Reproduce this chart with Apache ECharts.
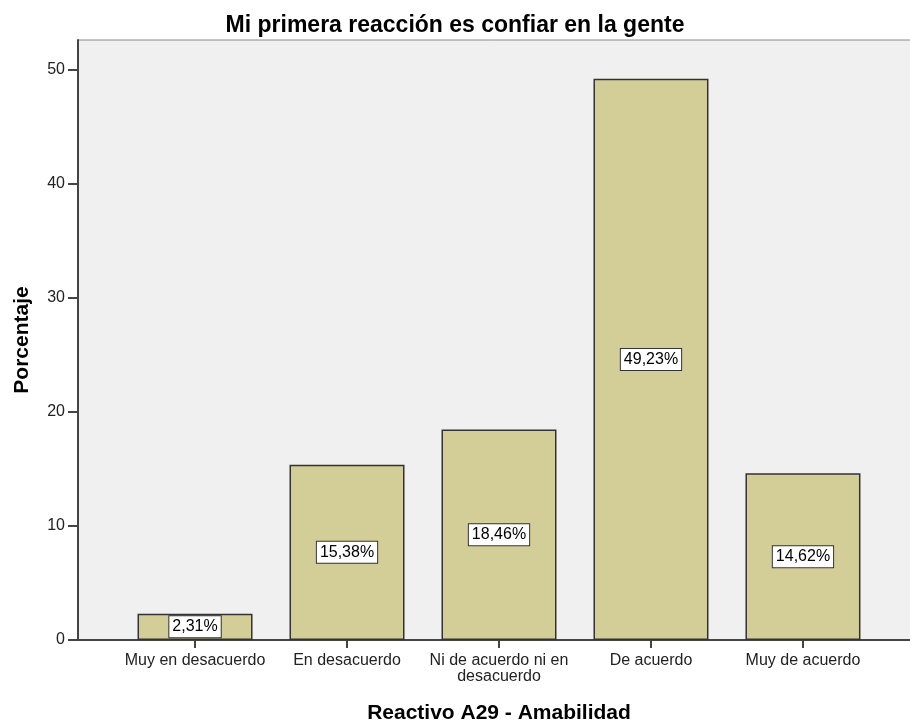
<!DOCTYPE html>
<html>
<head>
<meta charset="utf-8">
<script src="https://cdn.jsdelivr.net/npm/echarts@6/dist/echarts.min.js"></script>
<style>
  html, body { margin: 0; padding: 0; background: #fff; }
  #chart { width: 910px; height: 723px; }
</style>
</head>
<body>
<div id="chart"></div>
<script>
// data
const categories = ['Muy en desacuerdo', 'En desacuerdo', 'Ni de acuerdo ni en\ndesacuerdo', 'De acuerdo', 'Muy de acuerdo'];
const percentages = [2.31, 15.38, 18.46, 49.23, 14.62];
const positions = [1, 2, 3, 4, 5];

const font = '"Liberation Sans", Arial, sans-serif';

const myChart = echarts.init(document.getElementById('chart'));

const chartOption = {
  animation: false,
  backgroundColor: '#ffffff',
  title: {
    text: 'Mi primera reacción es confiar en la gente',
    left: 'center',
    top: 9,
    textStyle: { fontFamily: font, fontSize: 23, fontWeight: 'bold', color: '#000' }
  },
  grid: {
    left: 78,
    top: 40,
    width: 842,
    height: 600,
    outerBoundsMode: 'none',
    containLabel: false,
    show: true,
    backgroundColor: '#f0f0f0',
    borderColor: '#8a8a8a',
    borderWidth: 1
  },
  xAxis: {
    type: 'value',
    min: 0.23,
    max: 5.77,
    name: 'Reactivo A29 - Amabilidad',
    nameLocation: 'middle',
    nameGap: 63,
    nameTextStyle: { fontFamily: font, fontSize: 21, fontWeight: 'bold', color: '#000' },
    axisLine: { show: true, onZero: false, lineStyle: { color: '#444', width: 2 } },
    axisTick: { show: true, length: 8, customValues: positions, lineStyle: { color: '#444', width: 2 } },
    axisLabel: {
      customValues: positions,
      formatter: (v) => categories[Math.round(v) - 1],
      fontFamily: font,
      fontSize: 16,
      lineHeight: 16,
      color: '#222',
      margin: 13
    },
    splitLine: { show: false }
  },
  yAxis: {
    type: 'value',
    min: 0,
    max: 52.63,
    interval: 10,
    name: 'Porcentaje',
    nameLocation: 'middle',
    nameGap: 45,
    nameTextStyle: { fontFamily: font, fontSize: 21, fontWeight: 'bold', color: '#000' },
    axisLine: { show: true, lineStyle: { color: '#444', width: 2 } },
    axisTick: { show: true, length: 10, lineStyle: { color: '#444', width: 2 } },
    axisLabel: { fontFamily: font, fontSize: 16, color: '#222', margin: 13, showMaxLabel: false },
    splitLine: { show: false }
  },
  series: [{
    type: 'bar',
    data: positions.map((p, i) => [p, percentages[i]]),
    barWidth: 115,
    itemStyle: { color: '#d3ce98', borderColor: '#333', borderWidth: 1.5 },
    label: {
      show: true,
      position: 'inside',
      formatter: (p) => p.value[1].toFixed(2).replace('.', ',') + '%',
      fontFamily: font,
      fontSize: 16,
      color: '#000',
      backgroundColor: '#fff',
      borderColor: '#333',
      borderWidth: 1,
      padding: [3, 3, 2, 3]
    }
  }]
};

myChart.setOption(chartOption);
</script>
</body>
</html>
